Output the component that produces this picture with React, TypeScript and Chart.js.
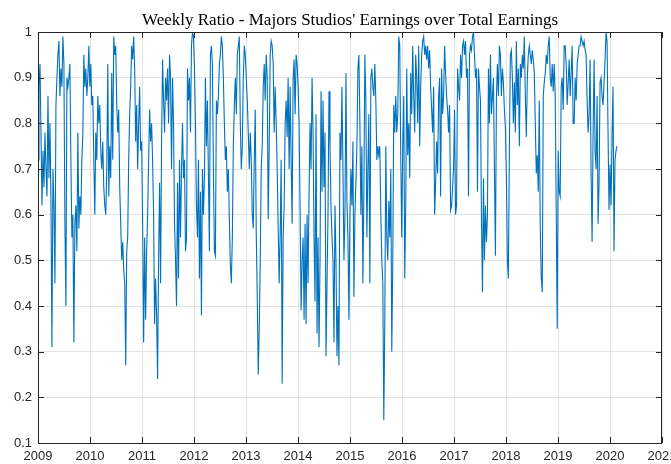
import React, { useEffect, useRef } from "react";
import { Chart, registerables } from "chart.js";
Chart.register(...registerables);

const TITLE = "Weekly Ratio - Majors Studios' Earnings over Total Earnings";
const START_YEAR = 2009;
const WEEK_IN_YEARS = 7 / 365.25;
const X_MIN = 2009;
const X_MAX = 2021;
const Y_MIN = 0.1;
const Y_MAX = 1;

// Weekly ratio values, in consecutive segments
// 2009.0 - 2010.1
const ratioSeg1 = [0.72, 0.88, 0.93, 0.78, 0.62, 0.74, 0.66, 0.78, 0.7, 0.64, 0.86, 0.68, 0.8, 0.63, 0.31, 0.7, 0.62, 0.45, 0.84, 0.9, 0.95, 0.98, 0.86, 0.92, 0.88, 0.99, 0.93, 0.58, 0.4, 0.9, 0.88, 0.9, 0.93, 0.72, 0.55, 0.6, 0.32, 0.58, 0.62, 0.52, 0.78, 0.57, 0.64, 0.6, 0.72, 0.78, 0.95, 0.88, 0.92, 0.86, 0.9, 0.97, 0.88, 0.93, 0.84, 0.86, 0.72, 0.6];
// 2010.1 - 2011.3
const ratioSeg2 = [0.78, 0.72, 0.86, 0.8, 0.84, 0.74, 0.7, 0.76, 0.66, 0.62, 0.6, 0.7, 0.93, 0.64, 0.75, 0.68, 0.91, 0.72, 0.99, 0.95, 0.97, 0.84, 0.78, 0.83, 0.66, 0.58, 0.5, 0.54, 0.48, 0.45, 0.27, 0.52, 0.55, 0.72, 0.82, 0.88, 0.97, 0.94, 0.99, 0.92, 0.76, 0.84, 0.7, 0.8, 0.88, 0.74, 0.76, 0.58, 0.32, 0.55, 0.37, 0.52, 0.6, 0.72, 0.83, 0.76, 0.8, 0.72, 0.6, 0.36];
// 2011.3 - 2012.4
const ratioSeg3 = [0.46, 0.38, 0.24, 0.5, 0.67, 0.45, 0.76, 0.94, 0.85, 0.78, 0.9, 0.85, 0.92, 0.8, 0.95, 0.9, 0.7, 0.9, 0.8, 0.58, 0.5, 0.4, 0.67, 0.46, 0.72, 0.55, 0.7, 0.8, 0.68, 0.72, 0.52, 0.55, 0.92, 0.85, 0.9, 0.78, 0.97, 1.0, 0.99, 0.92, 0.8, 0.62, 0.55, 0.72, 0.46, 0.65, 0.38, 0.7, 0.6, 0.68, 0.9, 0.75, 0.85, 0.69, 0.52, 0.95, 0.97, 0.93, 0.7, 0.52];
// 2012.4 - 2013.6
const ratioSeg4 = [0.51, 0.85, 0.82, 0.86, 0.93, 0.95, 0.99, 0.97, 0.9, 0.8, 0.72, 0.75, 0.65, 0.7, 0.59, 0.49, 0.45, 0.55, 0.75, 0.84, 0.9, 0.82, 0.95, 0.97, 0.99, 0.8, 0.7, 0.75, 0.9, 0.97, 0.95, 0.9, 0.85, 0.78, 0.7, 0.78, 0.72, 0.6, 0.57, 0.72, 0.83, 0.56, 0.42, 0.25, 0.35, 0.5, 0.7, 0.75, 0.88, 0.93, 0.85, 0.95, 0.9, 0.59, 0.75, 0.95, 0.98, 0.97, 0.93, 0.78];
// 2013.6 - 2014.7
const ratioSeg5 = [0.88, 0.8, 0.7, 0.57, 0.45, 0.56, 0.72, 0.23, 0.55, 0.62, 0.8, 0.85, 0.77, 0.9, 0.7, 0.88, 0.72, 0.58, 0.9, 0.94, 0.82, 0.95, 0.93, 0.88, 0.8, 0.61, 0.39, 0.5, 0.55, 0.37, 0.58, 0.36, 0.6, 0.45, 0.65, 0.8, 0.7, 0.9, 0.78, 0.55, 0.41, 0.82, 0.34, 0.55, 0.31, 0.5, 0.87, 0.65, 0.85, 0.66, 0.78, 0.29, 0.45, 0.6, 0.87, 0.75, 0.62, 0.55, 0.5, 0.32];
// 2014.7 - 2015.9
const ratioSeg6 = [0.62, 0.5, 0.29, 0.4, 0.27, 0.78, 0.72, 0.88, 0.7, 0.5, 0.6, 0.91, 0.63, 0.55, 0.37, 0.6, 0.7, 0.62, 0.76, 0.42, 0.6, 0.67, 0.75, 0.92, 0.95, 0.8, 0.6, 0.75, 0.45, 0.65, 0.95, 0.85, 0.55, 0.7, 0.82, 0.45, 0.9, 0.92, 0.88, 0.86, 0.93, 0.85, 0.72, 0.75, 0.73, 0.75, 0.6, 0.5, 0.45, 0.15, 0.37, 0.75, 0.55, 0.5, 0.63, 0.55, 0.7, 0.3, 0.5, 0.84];
// 2015.9 - 2017.0
const ratioSeg7 = [0.78, 0.86, 0.78, 0.82, 0.99, 0.97, 0.73, 0.55, 0.75, 0.86, 0.46, 0.62, 0.92, 0.73, 0.8, 0.68, 0.91, 0.82, 0.97, 0.86, 0.78, 0.95, 0.9, 0.8, 0.97, 0.75, 0.88, 0.95, 0.98, 0.99, 0.95, 0.97, 0.94, 0.97, 0.92, 0.96, 0.88, 0.83, 0.78, 0.88, 0.6, 0.67, 0.76, 0.69, 0.86, 0.9, 0.64, 0.92, 0.82, 0.86, 0.97, 0.91, 0.86, 0.83, 0.78, 0.84, 0.61, 0.62, 0.66, 0.7];
// 2017.0 - 2018.2
const ratioSeg8 = [0.83, 0.6, 0.62, 0.92, 0.88, 0.85, 0.95, 0.9, 0.97, 0.98, 0.95, 0.98, 0.9, 0.92, 0.64, 0.95, 0.97, 0.96, 0.99, 1.0, 0.95, 0.9, 0.92, 0.65, 0.92, 0.88, 0.85, 0.59, 0.43, 0.68, 0.5, 0.62, 0.54, 0.6, 0.92, 0.8, 0.95, 0.82, 0.86, 0.9, 0.7, 0.51, 0.86, 0.93, 0.86, 0.97, 0.95, 0.86, 0.92, 0.89, 0.83, 0.79, 0.68, 0.5, 0.46, 0.75, 0.95, 0.96, 0.9, 0.8];
// 2018.2 - 2019.3
const ratioSeg9 = [0.89, 0.78, 0.98, 0.84, 0.92, 0.75, 0.93, 0.9, 0.95, 0.92, 0.99, 0.86, 0.77, 0.9, 0.95, 0.97, 0.95, 0.93, 0.96, 0.94, 0.91, 0.8, 0.69, 0.73, 0.65, 0.85, 0.57, 0.46, 0.43, 0.86, 0.89, 0.91, 0.95, 0.93, 0.97, 0.99, 0.9, 0.88, 0.93, 0.87, 0.93, 0.86, 0.61, 0.35, 0.74, 0.65, 0.64, 0.88, 0.9, 0.83, 0.97, 0.97, 0.93, 0.84, 0.89, 0.94, 0.86, 0.91, 0.97, 0.8];
// 2019.3 - 2020.2
const ratioSeg10 = [0.8, 0.9, 0.85, 0.93, 0.95, 0.97, 0.97, 0.99, 0.98, 0.97, 0.98, 0.96, 0.95, 0.85, 0.78, 0.82, 0.94, 0.69, 0.54, 0.78, 0.94, 0.74, 0.7, 0.86, 0.58, 0.67, 0.89, 0.9, 0.86, 0.84, 0.89, 0.94, 1.0, 0.98, 0.78, 0.61, 0.71, 0.62, 0.77, 0.88, 0.52, 0.72, 0.74, 0.75];

const ratios = [
  ...ratioSeg1, ...ratioSeg2, ...ratioSeg3, ...ratioSeg4, ...ratioSeg5,
  ...ratioSeg6, ...ratioSeg7, ...ratioSeg8, ...ratioSeg9, ...ratioSeg10,
];

const LINE_COLOR = "#0072BD";
const GRID_COLOR = "#e3e3e3";
const AXIS_COLOR = "#262626";

export default function App() {
  const ref = useRef<HTMLCanvasElement>(null);

  useEffect(() => {
    document.body.style.margin = "0";
    const canvas = ref.current;
    if (!canvas) return;

    const points = ratios.map((v, i) => ({ x: START_YEAR + i * WEEK_IN_YEARS, y: v }));

    const frameTicks = {
      id: "frameTicks",
      afterDatasetsDraw(chart: any) {
        const { ctx, chartArea: a, scales } = chart;
        ctx.save();
        ctx.strokeStyle = AXIS_COLOR;
        ctx.lineWidth = 1;
        const len = 6;
        ctx.beginPath();
        scales.x.ticks.forEach((t: any) => {
          const px = Math.round(scales.x.getPixelForValue(t.value)) + 0.5;
          ctx.moveTo(px, a.bottom);
          ctx.lineTo(px, a.bottom - len);
          ctx.moveTo(px, a.top);
          ctx.lineTo(px, a.top + len);
        });
        scales.y.ticks.forEach((t: any) => {
          const py = Math.round(scales.y.getPixelForValue(t.value)) + 0.5;
          ctx.moveTo(a.left, py);
          ctx.lineTo(a.left + len, py);
          ctx.moveTo(a.right, py);
          ctx.lineTo(a.right - len, py);
        });
        ctx.stroke();
        ctx.strokeRect(Math.round(a.left) + 0.5, Math.round(a.top) + 0.5, Math.round(a.width) - 1, Math.round(a.height));
        ctx.restore();
      },
    };

    const tickFont = { family: "'Liberation Sans', Arial, sans-serif", size: 13 };

    const chart = new Chart(canvas, {
      type: "line",
      data: {
        datasets: [
          {
            data: points,
            borderColor: LINE_COLOR,
            borderWidth: 1.1,
            pointRadius: 0,
            tension: 0,
            fill: false,
          },
        ],
      },
      options: {
        animation: false,
        responsive: false,
        parsing: false as any,
        layout: { padding: { left: 0, right: 9, top: 0, bottom: 0 } },
        plugins: {
          legend: { display: false },
          tooltip: { enabled: false },
          title: {
            display: true,
            text: TITLE,
            fullSize: false,
            color: "#000",
            font: { family: "'Liberation Serif', serif", size: 17, weight: "normal", lineHeight: 1.2 },
            padding: { top: 10, bottom: 1.6 },
          },
        },
        scales: {
          x: {
            type: "linear",
            min: X_MIN,
            max: X_MAX,
            border: { display: false },
            grid: { color: GRID_COLOR, drawTicks: false },
            ticks: {
              stepSize: 1,
              autoSkip: false,
              maxRotation: 0,
              padding: 6,
              color: AXIS_COLOR,
              font: tickFont,
              callback: (v: any) => String(Math.round(Number(v))),
            },
            afterFit: (s: any) => {
              s.height = 21;
              s.paddingLeft = 0;
              s.paddingRight = 0;
            },
          },
          y: {
            min: Y_MIN,
            max: Y_MAX,
            border: { display: false },
            grid: { color: GRID_COLOR, drawTicks: false },
            ticks: {
              stepSize: 0.1,
              padding: 6,
              color: AXIS_COLOR,
              font: tickFont,
              callback: (v: any) => (Math.abs(Number(v) - 1) < 1e-9 ? "1" : Number(v).toFixed(1)),
            },
            afterFit: (s: any) => {
              s.width = 38;
            },
          },
        },
      },
      plugins: [frameTicks],
    });

    return () => chart.destroy();
  }, []);

  return (
    <div style={{ width: 671, height: 464 }}>
      <canvas ref={ref} width={671} height={464} />
    </div>
  );
}
